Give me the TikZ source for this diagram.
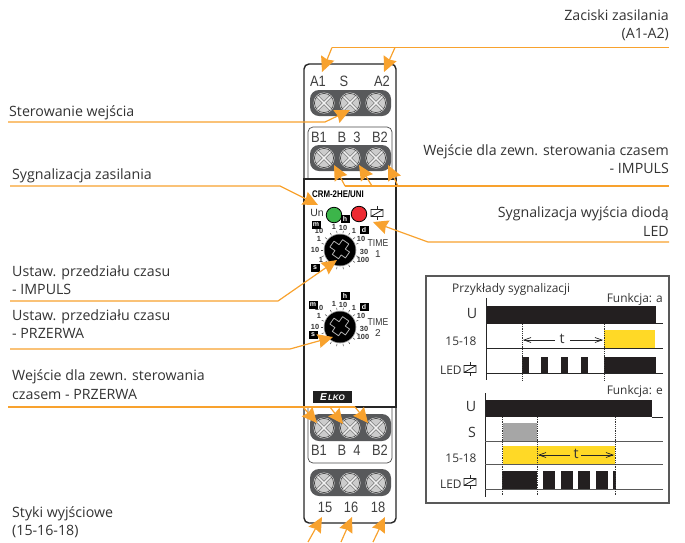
\documentclass[tikz,border=0pt]{standalone}
\usepackage{fontspec}
\usepackage{graphicx}
\setmainfont{Open Sans}
\newfontfamily\arialf{Liberation Sans}
\usetikzlibrary{arrows.meta}
\definecolor{oran}{HTML}{F8A22E}
\definecolor{yel}{HTML}{FFD926}
\definecolor{strip}{HTML}{58595B}
\definecolor{barblack}{HTML}{231F20}
\definecolor{ledgreen}{HTML}{3CB54A}
\definecolor{ledred}{HTML}{ED2A32}
\newcommand{\narrowtxt}[1]{\scalebox{0.86}[1]{#1}}
\tikzset{
  x=1pt,y=-1pt,
  lab/.style={font=\fontsize{14.2}{17}\selectfont,text=black!80,inner sep=0pt},
  labl/.style={lab,anchor=base west},
  labr/.style={lab,anchor=base east},
  smalllab/.style={font=\fontsize{11.9}{15}\selectfont,text=black!80,inner sep=0pt},
  tlab/.style={font=\arialf\fontsize{15}{16}\selectfont,text=black!75,inner sep=0pt},
  scalenum/.style={font=\arialf\bfseries\fontsize{7.4}{8}\selectfont,text=black!80,inner sep=0pt},
  unitbox/.style={fill=black,text=white,font=\arialf\bfseries\fontsize{7}{7}\selectfont,inner sep=0pt,minimum width=9pt,minimum height=8pt},
  pointer/.style={draw=oran,line width=1.2pt,-{Stealth[length=15pt,width=14pt,inset=1.5pt,fill=oran]}},
  leader/.style={draw=oran,line width=1.2pt},
  axisline/.style={draw=black!85,line width=0.9pt},
  axisgray/.style={draw=black!65,line width=0.9pt},
  dotline/.style={draw=black!80,line width=0.8pt,densely dotted},
  timearrow/.style={draw=black!85,line width=0.7pt,-{Straight Barb[length=7pt,width=5pt]}},
  screw/.pic={
    \fill[white!90!black] (0,0) circle (10.5pt);
    \fill[black!20] (0,0) circle (9.6pt);
    \draw[black!75,line width=0.6pt] (0,0) circle (9.6pt);
    \draw[black!65,line width=2.8pt] (-6.5,-6.5)--(6.5,6.5) (-6.5,6.5)--(6.5,-6.5);
    \draw[black!5,line width=1.5pt] (-6.5,-6.5)--(6.5,6.5) (-6.5,6.5)--(6.5,-6.5);
  },
  relay/.pic={
    \draw[black!85,line width=0.7pt] (0,-7)--(0,7);
    \fill[white] (-6,-3.5) rectangle (6,3.5);
    \draw[black!85,line width=0.8pt] (-6,-3.5) rectangle (6,3.5) (-6,3.5)--(6,-3.5);
  },
  dial/.pic={
    \foreach \a in {20,40,...,340}{
      \draw[black!70,line width=0.5pt] (\a:16pt)--(\a:19.5pt);
    }
    \fill[white] (0,0) circle (17pt);
    \fill[black!40] (0,0) circle (16.3pt);
    \fill[black] (0,0) circle (15.5pt);
    \draw[black!30,line width=0.8pt,line join=round,rotate=-35]
      (-3.8,-10)--(3.8,-10)--(3.8,-3.8)--(9,-3.8)--(9,3.4)--(3.8,3.4)--(3.8,8)--(-3.8,8)--(-3.8,3.4)--(-10,3.4)--(-10,-3.8)--(-3.8,-3.8)--cycle;
    \node[scalenum] (a) at (-21,-19) {10};
    \node[scalenum] (b) at (-6,-23) {1};
    \node[scalenum] (c) at (3,-22) {10};
    \node[scalenum] (e) at (14,-19) {1};
    \node[scalenum] (f) at (21,-11) {10};
    \node[scalenum] (g) at (24,2) {30};
    \node[scalenum] (i) at (23,10) {100};
    \node[scalenum] (j) at (-21,-11) {1};
    \node[scalenum] (k) at (-25,0) {10};
    \node[unitbox] (h) at (5,-31) {h};
    \node[unitbox] (dd) at (24,-20) {d};
  },
}
\begin{document}
\begin{tikzpicture}
\useasboundingbox (0,0) rectangle (685,542);
% ---------- device body
\draw[fill=white,draw=black!85,line width=1.4pt,rounded corners=5pt] (304,64) rectangle (396,523);
\draw[fill=white,draw=black!70,line width=0.7pt,rounded corners=5pt] (308,127) rectangle (392,190);
\draw[fill=white,draw=black!70,line width=0.7pt,rounded corners=5pt] (308,395) rectangle (392,463);
\draw[fill=white,draw=black!85,line width=1.4pt] (304,179) rectangle (396,407);
\fill[strip,rounded corners=9pt] (310,90) rectangle (391,116);
\fill[strip,rounded corners=9pt] (310,145) rectangle (391,171);
\fill[strip,rounded corners=9pt] (310,414) rectangle (391,441);
\fill[strip,rounded corners=9pt] (310,469) rectangle (391,496);
\foreach \yy in {103,158,428,483}{
  \foreach \xx in {324,350,376}{
    \pic at (\xx,\yy) {screw};
  }
}
\node[tlab] (tA1) at (318,81) {\narrowtxt{A1}};
\node[tlab] (tS) at (344,81) {\narrowtxt{S}};
\node[tlab] (tA2) at (382,81) {\narrowtxt{A2}};
\node[tlab] (tB1a) at (319,137) {\narrowtxt{B1}};
\node[tlab] (tBa) at (342,137) {\narrowtxt{B}};
\node[tlab] (t3) at (357,137) {\narrowtxt{3}};
\node[tlab] (tB2a) at (380,137) {\narrowtxt{B2}};
\node[tlab] (tB1b) at (319,450) {\narrowtxt{B1}};
\node[tlab] (tBb) at (342,450) {\narrowtxt{B}};
\node[tlab] (t4) at (357,450) {\narrowtxt{4}};
\node[tlab] (tB2b) at (380,450) {\narrowtxt{B2}};
\node[tlab] (t15) at (325,507) {\narrowtxt{15}};
\node[tlab] (t16) at (351,507) {\narrowtxt{16}};
\node[tlab] (t18) at (378,507) {\narrowtxt{18}};
% ---------- front panel
\node[inner sep=0pt,font=\arialf\bfseries\fontsize{9.6}{10}\selectfont] (model) at (338,194) {\scalebox{0.82}[1]{CRM-2HE/UNI}};
\node[font=\arialf\fontsize{10.5}{11}\selectfont,text=black!80,inner sep=0pt] (un) at (317,213) {Un};
\node[circle,fill=ledgreen,draw=black,line width=0.8pt,minimum size=15.5pt,inner sep=0pt] (ledg) at (334,215) {};
\node[circle,fill=ledred,draw=black,line width=0.8pt,minimum size=15.5pt,inner sep=0pt] (ledr) at (359,214) {};
\pic at (377,213) {relay};
\pic (da) at (340,250) {dial};
\pic (db) at (340,327) {dial};
\node[unitbox] (ma) at (316,225) {m};
\node[unitbox] (sa) at (315,268) {s};
\node[scalenum] (n1) at (321,260) {1};
\node[unitbox] (mb) at (313,305) {m};
\node[unitbox] (sb) at (313,335) {s};
\node[font=\arialf\fontsize{10}{11}\selectfont,text=black!80,inner sep=0pt] (time1) at (378,243) {\narrowtxt{TIME}};
\node[font=\arialf\fontsize{10}{11}\selectfont,text=black!80,inner sep=0pt] (one) at (378,254) {1};
\node[font=\arialf\fontsize{10}{11}\selectfont,text=black!80,inner sep=0pt] (time2) at (378,322) {\narrowtxt{TIME}};
\node[font=\arialf\fontsize{10}{11}\selectfont,text=black!80,inner sep=0pt] (two) at (378,333) {2};
\node[fill=black!88,text=white,minimum width=39pt,minimum height=12pt,inner sep=0pt] (logo) at (332.5,397) {\arialf\bfseries\itshape{\fontsize{10}{10}\selectfont E}{\fontsize{8}{9}\selectfont\,LKO}};
% ---------- labels
\node[labr] (l1) at (669,20) {Zaciski zasilania};
\node[labr] (l2) at (669,38) {(A1-A2)};
\node[labl] (l3) at (9,116) {Sterowanie wejścia};
\node[labr] (l4) at (669,155) {Wejście dla zewn. sterowania czasem};
\node[labr] (l5) at (669,173) {- IMPULS};
\node[labl] (l6) at (12,179) {Sygnalizacja zasilania};
\node[labr] (l7) at (669,217) {Sygnalizacja wyjścia diodą};
\node[labr] (l8) at (669,236) {LED};
\node[labl] (l9) at (12,276) {Ustaw. przedziału czasu};
\node[labl] (l10) at (12,294) {- IMPULS};
\node[labl] (l11) at (12,320) {Ustaw. przedziału czasu};
\node[labl] (l12) at (12,338) {- PRZERWA};
\node[labl] (l13) at (12,380) {Wejście dla zewn. sterowania};
\node[labl] (l14) at (12,399) {czasem - PRZERWA};
\node[labl] (l15) at (12,517) {Styki wyjściowe};
\node[labl] (l16) at (12,535) {(15-16-18)};
% ---------- connectors
\coordinate (pA) at (669,47.5);
\coordinate (pAb1) at (332,47.5);
\coordinate (pAb2) at (395,47.5);
\coordinate (pA1) at (322,72);
\coordinate (pA2) at (384,72);
\draw[leader] (pA)--(pAb1);
\draw[pointer] (pAb1)--(pA1);
\draw[pointer] (pAb2)--(pA2);
\coordinate (pS0) at (8,122);
\coordinate (pS1) at (325,122);
\coordinate (pS2) at (350,110);
\draw[pointer] (pS0)--(pS1)--(pS2);
\coordinate (pI0) at (669,186);
\coordinate (pI1) at (345,186);
\coordinate (pI2) at (372,186);
\coordinate (pI3) at (398,186);
\coordinate (tI1) at (334,165);
\coordinate (tI2) at (359,165);
\coordinate (tI3) at (388,165);
\draw[leader] (pI0)--(pI1);
\draw[pointer] (pI1)--(tI1);
\draw[pointer] (pI2)--(tI2);
\draw[pointer] (pI3)--(tI3);
\coordinate (pZ0) at (10,186);
\coordinate (pZ1) at (280,186);
\coordinate (tZ) at (318,205);
\draw[pointer] (pZ0)--(pZ1)--(tZ);
\coordinate (pW0) at (669,242);
\coordinate (pW1) at (428,242);
\coordinate (tW) at (373,222);
\draw[pointer] (pW0)--(pW1)--(tW);
\coordinate (pT0) at (10,301);
\coordinate (pT1) at (278,301);
\coordinate (tT) at (337,260);
\draw[pointer] (pT0)--(pT1)--(tT);
\coordinate (pU0) at (10,349);
\coordinate (pU1) at (290,349);
\coordinate (tU) at (333,337);
\draw[pointer] (pU0)--(pU1)--(tU);
\coordinate (pP0) at (8,407);
\coordinate (pP1) at (303,407);
\coordinate (pP2) at (330,407);
\coordinate (pP3) at (355,407);
\coordinate (tP1) at (317,423);
\coordinate (tP2) at (343,424);
\coordinate (tP3) at (368,423);
\draw[leader] (pP0)--(pP3);
\draw[pointer] (pP1)--(tP1);
\draw[pointer] (pP2)--(tP2);
\draw[pointer] (pP3)--(tP3);
\coordinate (pB1) at (308,542);
\coordinate (pB2) at (341,542);
\coordinate (pB3) at (373,542);
\coordinate (tB1) at (322,517);
\coordinate (tB2) at (352,517);
\coordinate (tB3) at (385,517);
\draw[pointer] (pB1)--(tB1);
\draw[pointer] (pB2)--(tB2);
\draw[pointer] (pB3)--(tB3);
% ---------- timing box
\draw[black!65,line width=1.1pt] (426,276) rectangle (669,503);
\node[smalllab,anchor=base west] (h1) at (452,292) {Przykłady sygnalizacji};
\node[smalllab,anchor=base east] (fa) at (663,302) {Funkcja: a};
\node[smalllab,anchor=base east] (fe) at (663,394) {Funkcja: e};
\node[lab] (ua) at (472,313) {U};
\node[smalllab] (ra) at (461,341) {15-18};
\node[smalllab,anchor=base west] (la) at (440,374) {LED};
\pic at (470,369) {relay};
\fill[barblack] (486,306) rectangle (656,324);
\draw[axisline] (486,298)--(486,380);
\draw[axisline] (656,323.5)--(663,323.5);
\fill[yel] (604,330) rectangle (655,348);
\draw[axisline] (486,348)--(663,348);
\foreach \xa/\xb in {522/529,541/548,561/568,581/588,604/656}{
  \fill[barblack] (\xa,357) rectangle (\xb,373);
}
\draw[axisline] (486,373)--(663,373);
\draw[dotline] (522,324)--(522,381);
\draw[dotline] (604,324)--(604,381);
\node[lab] (ta) at (562,339) {t};
\coordinate (ta1) at (555,340);
\coordinate (ta2) at (523,340);
\coordinate (ta3) at (570,340);
\coordinate (ta4) at (603,340);
\draw[timearrow] (ta1)--(ta2);
\draw[timearrow] (ta3)--(ta4);
% second
\node[lab] (ub) at (471,406) {U};
\node[lab] (sl) at (472,432) {S};
\node[smalllab] (rb) at (461,458) {15-18};
\node[smalllab,anchor=base west] (lb) at (440,488) {LED};
\pic at (470,482) {relay};
\fill[barblack] (485,400) rectangle (652,417);
\draw[axisline] (485,393)--(485,497);
\draw[axisline] (652,417)--(663,417);
\fill[black!35] (503,423) rectangle (537,441);
\draw[axisgray] (485,441)--(663,441);
\fill[yel] (503,446) rectangle (615,464);
\draw[axisgray] (485,464)--(663,464);
\foreach \xa/\xb in {502/537,543/555,561/573,578/590,596/608,613/616}{
  \fill[barblack] (\xa,471) rectangle (\xb,489);
}
\draw[axisgray] (485,489)--(663,489);
\draw[dotline] (502,417)--(502,495);
\draw[dotline] (537,417)--(537,495);
\draw[dotline] (615,417)--(615,495);
\node[lab] (tb) at (576,454) {t};
\coordinate (tb1) at (570,455);
\coordinate (tb2) at (538,455);
\coordinate (tb3) at (581,455);
\coordinate (tb4) at (614,455);
\draw[timearrow] (tb1)--(tb2);
\draw[timearrow] (tb3)--(tb4);
\end{tikzpicture}
\end{document}
